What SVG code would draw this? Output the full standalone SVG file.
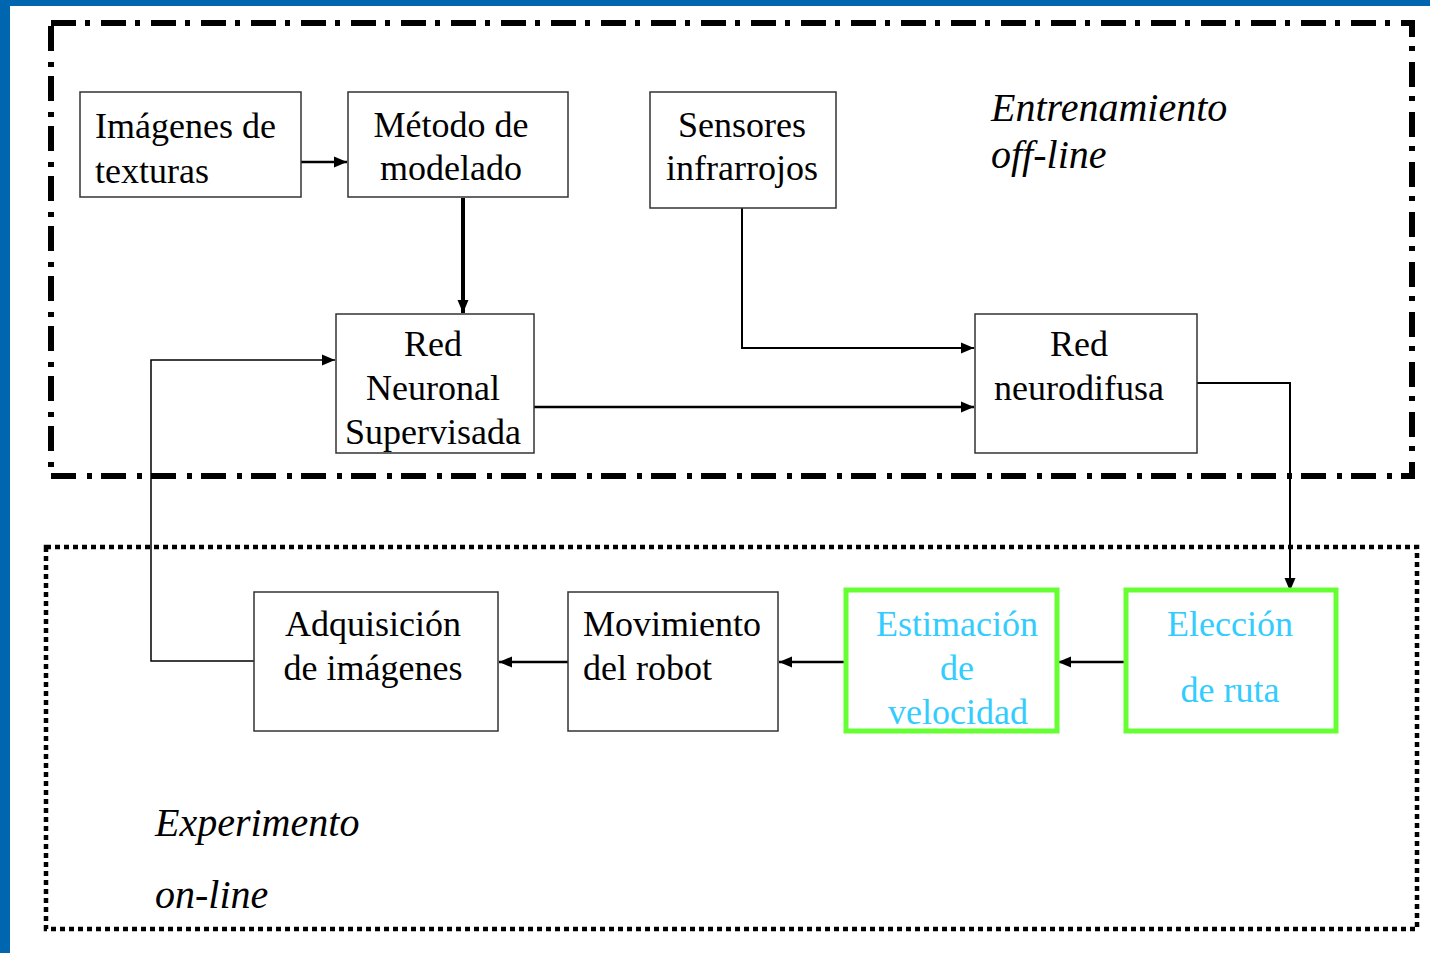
<svg xmlns="http://www.w3.org/2000/svg" width="1430" height="953" viewBox="0 0 1430 953">
<defs>
<marker id="ah" markerUnits="userSpaceOnUse" markerWidth="14" markerHeight="14" viewBox="0 0 14 14" refX="13" refY="7" orient="auto">
<path d="M0,1.5 L13,7 L0,12.5 Z" fill="#000"/>
</marker>
<style>
.box{fill:#fff;stroke:#333;stroke-width:1.5}
.gbox{fill:#fff;stroke:#66ff33;stroke-width:5}
.t{font-family:"Liberation Serif","Times New Roman",serif;font-size:36px;fill:#000}
.c{text-anchor:middle}
.cy{fill:#33ccff}
.it{font-family:"Liberation Serif","Times New Roman",serif;font-size:40px;font-style:italic;fill:#000}
.ln{fill:none;stroke:#000}
</style>
</defs>
<rect x="0" y="0" width="1430" height="953" fill="#fff"/>
<rect x="0" y="0" width="1430" height="6" fill="#0066b0"/>
<rect x="0" y="0" width="10" height="953" fill="#0066b0"/>

<g id="offline-region">
<rect x="51" y="23" width="1361" height="453" fill="none" stroke="#000" stroke-width="6" stroke-dasharray="25 9 5 11"/>
<text class="it" x="991" y="121">Entrenamiento</text>
<text class="it" x="991" y="168">off-line</text>
</g>
<g id="online-region">
<rect x="46" y="547" width="1371" height="382" fill="none" stroke="#000" stroke-width="4.5" stroke-dasharray="5 4"/>
<text class="it" x="155" y="836">Experimento</text>
<text class="it" x="155" y="908">on-line</text>
</g>

<g id="connectors">
<path class="ln" stroke-width="2.5" d="M301,162 H347" marker-end="url(#ah)"/>
<path class="ln" stroke-width="4" d="M463,198 V313" marker-end="url(#ah)"/>
<path class="ln" stroke-width="2" d="M742,208 V348 H974" marker-end="url(#ah)"/>
<path class="ln" stroke-width="2.5" d="M534,407 H974" marker-end="url(#ah)"/>
<path class="ln" stroke-width="2" d="M1197,383 H1290 V591" marker-end="url(#ah)"/>
<path class="ln" stroke-width="2.5" d="M1126,662 H1058" marker-end="url(#ah)"/>
<path class="ln" stroke-width="2.5" d="M846,662 H779" marker-end="url(#ah)"/>
<path class="ln" stroke-width="2.5" d="M568,662 H499" marker-end="url(#ah)"/>
<path class="ln" stroke-width="1.5" d="M254,661 H151 V360 H335" marker-end="url(#ah)"/>
</g>

<g id="imagenes-texturas">
<rect class="box" x="80" y="92" width="221" height="105"/>
<text class="t" x="95" y="138">Imágenes de</text>
<text class="t" x="95" y="183">texturas</text>
</g>
<g id="metodo-modelado">
<rect class="box" x="348" y="92" width="220" height="105"/>
<text class="t c" x="451" y="137">Método de</text>
<text class="t c" x="451" y="180">modelado</text>
</g>
<g id="sensores-infrarrojos">
<rect class="box" x="650" y="92" width="186" height="116"/>
<text class="t c" x="742" y="137">Sensores</text>
<text class="t c" x="742" y="180">infrarrojos</text>
</g>
<g id="red-neuronal">
<rect class="box" x="336" y="314" width="198" height="139"/>
<text class="t c" x="433" y="356">Red</text>
<text class="t c" x="433" y="400">Neuronal</text>
<text class="t c" x="433" y="444">Supervisada</text>
</g>
<g id="red-neurodifusa">
<rect class="box" x="975" y="314" width="222" height="139"/>
<text class="t c" x="1079" y="356">Red</text>
<text class="t c" x="1079" y="400">neurodifusa</text>
</g>
<g id="adquisicion">
<rect class="box" x="254" y="592" width="244" height="139"/>
<text class="t c" x="373" y="636">Adquisición</text>
<text class="t c" x="373" y="680">de imágenes</text>
</g>
<g id="movimiento">
<rect class="box" x="568" y="592" width="210" height="139"/>
<text class="t" x="583" y="636">Movimiento</text>
<text class="t" x="583" y="680">del robot</text>
</g>
<g id="estimacion">
<rect class="gbox" x="846" y="590" width="211" height="141"/>
<text class="t c cy" x="957" y="636">Estimación</text>
<text class="t c cy" x="957" y="680">de</text>
<text class="t c cy" x="958" y="724">velocidad</text>
</g>
<g id="eleccion">
<rect class="gbox" x="1126" y="590" width="210" height="141"/>
<text class="t c cy" x="1230" y="636">Elección</text>
<text class="t c cy" x="1230" y="702">de ruta</text>
</g>
</svg>
